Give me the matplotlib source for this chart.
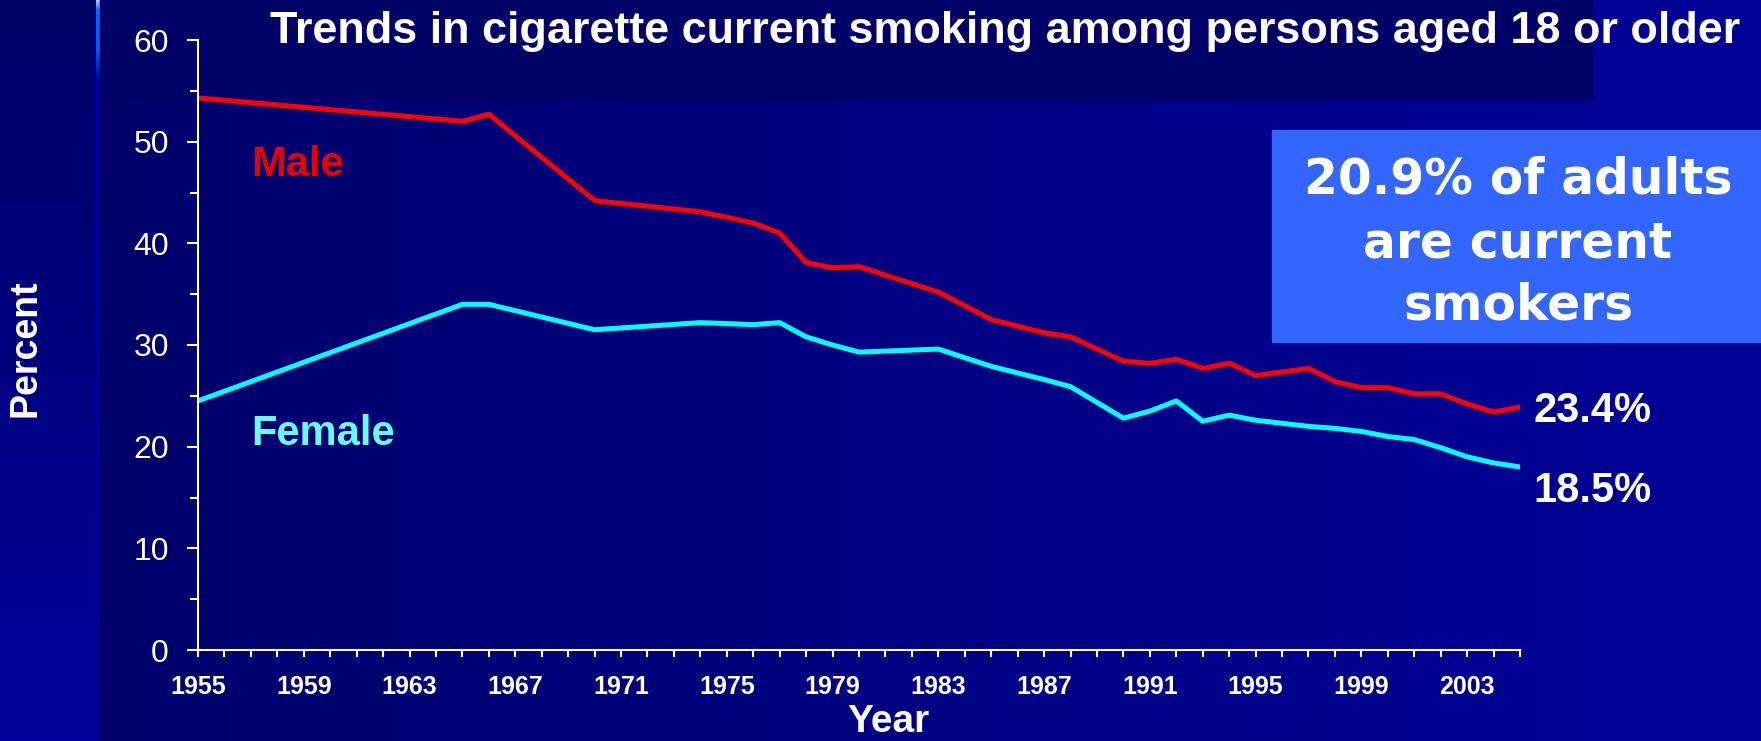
import matplotlib.pyplot as plt
import numpy as np
from matplotlib.patches import Rectangle
from matplotlib.ticker import MultipleLocator

plt.rcParams['font.family'] = ['Liberation Sans', 'DejaVu Sans']

# data (percent of adults who currently smoke)
years = [1955, 1965, 1966, 1970, 1974, 1976, 1977, 1978, 1979, 1980, 1983, 1985, 1987, 1988,
         1990, 1991, 1992, 1993, 1994, 1995, 1997, 1998, 1999, 2000, 2001, 2002, 2003, 2004, 2005]
male = [54.3, 52.0, 52.7, 44.2, 43.1, 42.0, 41.0, 38.1, 37.6, 37.7, 35.2, 32.5, 31.2, 30.8,
        28.4, 28.2, 28.6, 27.7, 28.2, 27.0, 27.7, 26.4, 25.8, 25.8, 25.2, 25.2, 24.2, 23.4, 23.9]
female = [24.5, 34.0, 34.0, 31.5, 32.2, 32.0, 32.2, 30.8, 30.0, 29.3, 29.6, 27.9, 26.6, 25.9,
          22.8, 23.5, 24.5, 22.5, 23.1, 22.6, 22.0, 21.8, 21.5, 21.0, 20.7, 19.9, 19.0, 18.4, 18.0]
tick_years = list(range(1955, 2005, 4))
end_labels = ['23.4%', '18.5%']
title = 'Trends in cigarette current smoking among persons aged 18 or older'
box_lines = ['20.9% of adults', 'are current', 'smokers']

W, H = 1761, 741
fig = plt.figure(figsize=(W / 100, H / 100), dpi=100)

# slide background, in pixel coordinates
bg = fig.add_axes([0, 0, 1, 1], zorder=0)
bg.set_xlim(0, W)
bg.set_ylim(H, 0)
bg.axis('off')

img = np.zeros((H, W, 3))
cols = np.arange(W)[None, :]
yy = np.linspace(0, 1, H)[:, None]
left_part = 0x66 + (0x9a - 0x66) * yy
right_part = 0x68 + (0x96 - 0x68) * ((cols - 97).clip(0) / (W - 97)) ** 0.8
img[..., 2] = np.where(cols < 97, left_part, right_part + 0 * yy) / 255

# thin bright strip on the left
t = np.arange(H)
strip = np.zeros((H, 3))
strip[:, 0] = np.interp(t, [0, 10, 50, 80, H], [0.7, 0.0, 0.0, 0.0, 0.0])
strip[:, 1] = np.interp(t, [0, 10, 50, 80, H], [0.75, 0.4, 0.35, 0.0, 0.0])
strip[:, 2] = np.interp(t, [0, 10, 50, 80, H], [1.0, 1.0, 1.0, 0.66, 0.6])
img[:, 96:100, :] = strip[:, None, :]
bg.imshow(img, extent=(0, W, H, 0), aspect='auto', interpolation='nearest')

bg.add_patch(Rectangle((100, 0), 1492, 99, color='#000066'))
bg.text(270, 43, title, ha='left', va='baseline', fontsize=32.4, fontweight='bold', color='white')

bg.add_patch(Rectangle((1272, 130), W - 1272, 212, color='#3366ff'))
for txt, base in zip(box_lines, [193, 257, 320]):
    bg.text(1518, base, txt, ha='center', va='baseline', fontsize=35, fontweight='bold',
            color='white', family='DejaVu Sans')

# chart
ax = fig.add_axes([198 / W, 1 - 650 / H, (1520 - 198) / W, (650 - 40) / H], zorder=1)
ax.patch.set_alpha(0)
ax.plot(years, male, color='#ff0000', lw=3.6)
ax.plot(years, female, color='#00ffff', lw=3.6)
ax.set_xlim(1955, 2005)
ax.set_ylim(0, 60)

for s in ['top', 'right']:
    ax.spines[s].set_visible(False)
for s in ['left', 'bottom']:
    ax.spines[s].set_color('white')
    ax.spines[s].set_linewidth(1.5)

ax.yaxis.set_major_locator(MultipleLocator(10))
ax.yaxis.set_minor_locator(MultipleLocator(5))
ax.set_xticks(tick_years)
ax.set_xticklabels([str(y) for y in tick_years], fontweight='bold')
ax.xaxis.set_minor_locator(MultipleLocator(1))
ax.tick_params(axis='y', which='major', length=8, width=1.5, color='white',
               labelcolor='white', labelsize=23, pad=13)
ax.tick_params(axis='y', which='minor', length=5.5, width=1.5, color='white')
ax.tick_params(axis='x', which='both', length=5, width=1.5, color='white',
               labelcolor='white', labelsize=18, pad=13)

ax.text(1957, 46.6, 'Male', color='#e60000', fontsize=30, fontweight='bold', va='baseline')
ax.text(1957, 20.2, 'Female', color='#66ffff', fontsize=30, fontweight='bold', va='baseline')
ax.text(2005.5, 22.4, end_labels[0], color='white', fontsize=30, fontweight='bold',
        va='baseline', clip_on=False)
ax.text(2005.5, 14.6, end_labels[1], color='white', fontsize=30, fontweight='bold',
        va='baseline', clip_on=False)

fig.text(888 / W, 1 / H, 'Year', ha='center', va='bottom', fontsize=28,
         fontweight='bold', color='white')
fig.text(25 / W, 1 - 348 / H, 'Percent', rotation=90, ha='center', va='center',
         fontsize=27, fontweight='bold', color='white')

fig.savefig('out.png', dpi=100)
